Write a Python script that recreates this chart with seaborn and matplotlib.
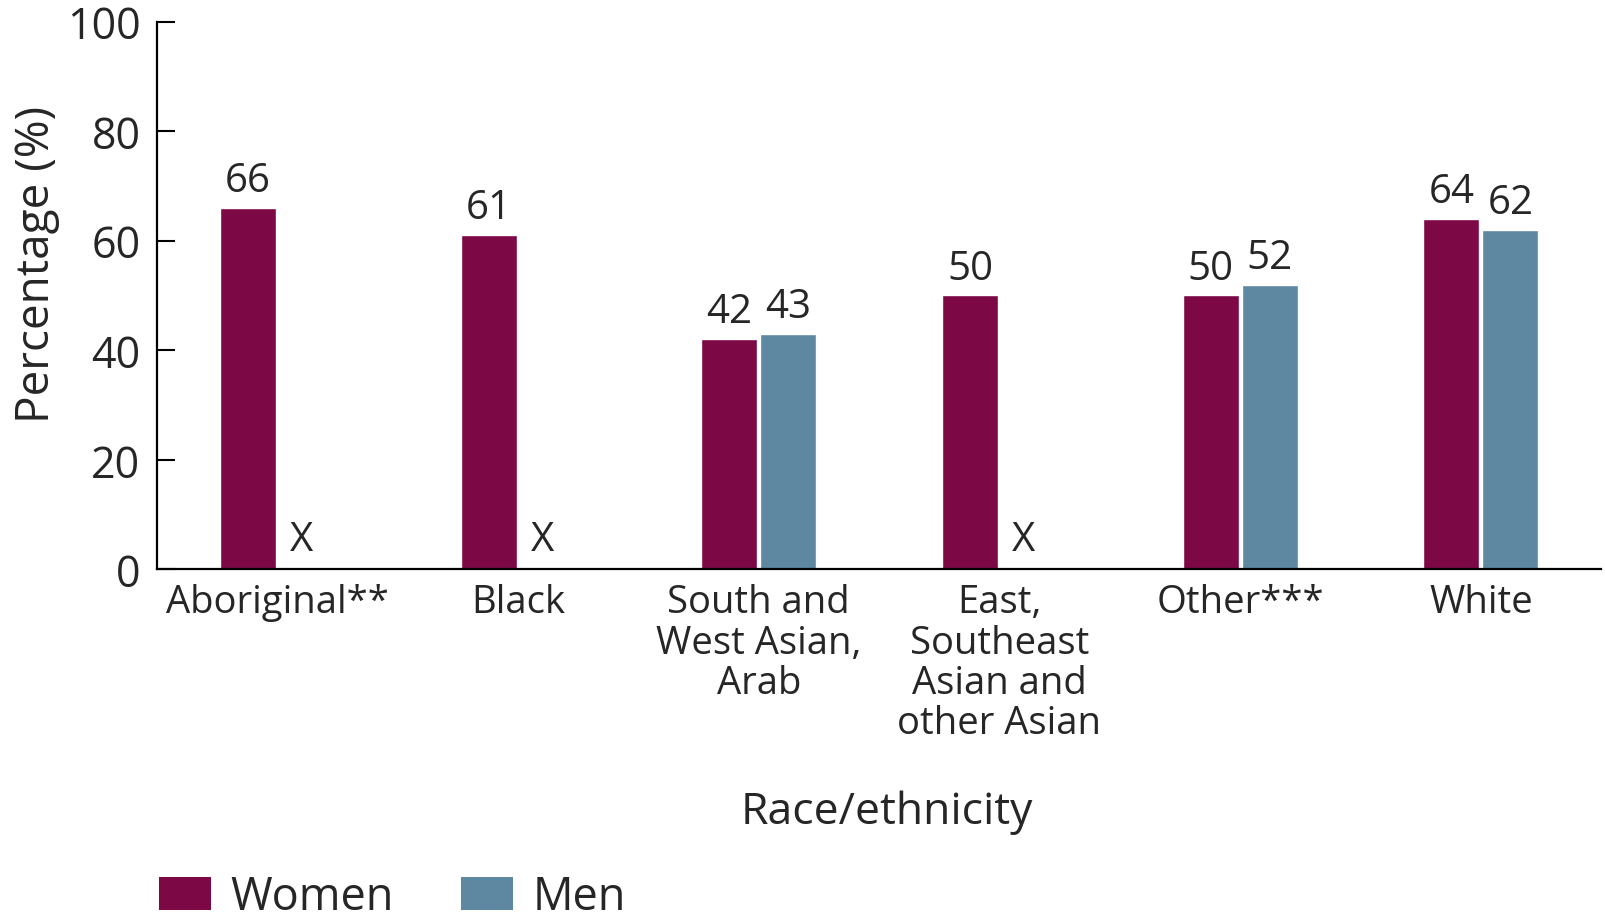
import numpy as np
import pandas as pd
import matplotlib
matplotlib.use("Agg")
import matplotlib.pyplot as plt
from matplotlib.patches import Patch
import seaborn as sns

categories = ["Aboriginal**", "Black", "South and\nWest Asian,\nArab",
              "East,\nSoutheast\nAsian and\nother Asian", "Other***", "White"]
women = [66, 61, 42, 50, 50, 64]
men = [np.nan, np.nan, 43, np.nan, 52, 62]
series = ["Women", "Men"]
colors = ["#7D0846", "#5E87A1"]
yticks = [0, 20, 40, 60, 80, 100]

df = pd.DataFrame({
    "category": categories * 2,
    "sex": ["Women"] * len(categories) + ["Men"] * len(categories),
    "value": women + men,
})

sns.set_theme(style="white")
plt.rcParams["font.family"] = ["Open Sans", "DejaVu Sans"]

fig = plt.figure(figsize=(16.06, 9.2), dpi=100)
ax = fig.add_axes([0.0978, 0.380, 0.8992, 0.5955])

sns.barplot(data=df, x="category", y="value", hue="sex", order=categories,
            hue_order=series, palette=colors, width=0.49, gap=0.05,
            saturation=1, ax=ax, legend=False, errorbar=None)

ax.set_xlim(-0.5, len(categories) - 0.5)
ax.set_ylim(0, 100)
ax.set_yticks(yticks)
ax.set_yticklabels([str(v) for v in yticks], fontsize=31)

# value labels on top of each bar
for cont in ax.containers:
    for bar in cont:
        if bar is None:
            continue
        h = bar.get_height()
        if np.isnan(h):
            continue
        ax.annotate(f"{h:.0f}", (bar.get_x() + bar.get_width() / 2, h),
                    xytext=(0, 5), textcoords="offset points",
                    ha="center", va="bottom", fontsize=29)

# "X" where the men's estimate is suppressed
for i, v in enumerate(men):
    if np.isnan(v):
        ax.text(i + 0.1, 1.8, "X", ha="center", va="bottom", fontsize=29)

ax.set_xticks(range(len(categories)))
ax.set_xticklabels(categories, fontsize=27.5, linespacing=1.08)
ax.set_xticks(np.arange(0.5, len(categories), 1.0), minor=True)
ax.tick_params(axis="x", which="major", length=0, pad=10)
ax.tick_params(axis="x", which="minor", direction="in", length=13, width=1.5, color="black")
ax.tick_params(axis="y", which="major", direction="in", length=13, width=1.5,
               color="black", pad=12, left=True)

for side in ["top", "right"]:
    ax.spines[side].set_visible(False)
for side in ["left", "bottom"]:
    ax.spines[side].set_color("black")
    ax.spines[side].set_linewidth(1.6)

ax.set_xlabel("")
ax.set_ylabel("Percentage (%)", fontsize=33)
ax.yaxis.set_label_coords(-0.067, 0.559)

fig.text(0.552, 0.117, "Race/ethnicity", ha="center", va="center", fontsize=32)

handles = [Patch(facecolor=c, edgecolor="none", label=s) for c, s in zip(colors, series)]
fig.legend(handles=handles, loc="lower left", bbox_to_anchor=(0.088, -0.021), ncol=2,
           frameon=False, fontsize=32.5, handlelength=1.15, handleheight=0.76,
           handletextpad=0.42, columnspacing=1.5, borderaxespad=0)

fig.savefig("out.png", dpi=100, facecolor="white")
